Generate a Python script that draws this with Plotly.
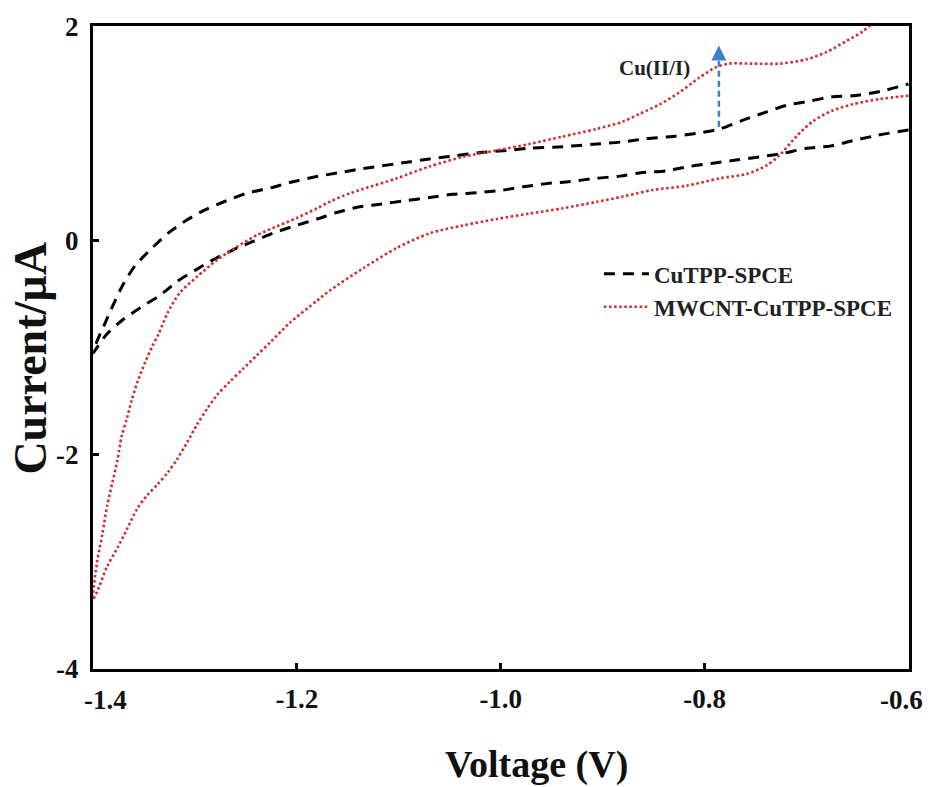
import plotly.graph_objects as go

# ---- data (V, µA) ----
cutpp_up_v = [-1.400, -1.396, -1.389, -1.382, -1.371, -1.359, -1.342, -1.326, -1.308, -1.289, -1.269, -1.249, -1.226,
              -1.207, -1.184, -1.160, -1.135, -1.092, -1.070, -1.045, -1.020, -0.994, -0.972, -0.939, -0.906,
              -0.880, -0.857, -0.831, -0.808, -0.785, -0.763, -0.739, -0.720, -0.697, -0.675, -0.655, -0.628, -0.600]
cutpp_up_i = [-1.05, -0.94, -0.79, -0.64, -0.42, -0.24, -0.07, 0.07, 0.19, 0.29, 0.37, 0.44, 0.49,
              0.54, 0.59, 0.63, 0.67, 0.73, 0.76, 0.79, 0.82, 0.84, 0.86, 0.875, 0.90,
              0.92, 0.95, 0.97, 1.00, 1.04, 1.12, 1.20, 1.26, 1.30, 1.34, 1.35, 1.39, 1.46]
cutpp_lo_v = [-1.400, -1.387, -1.372, -1.354, -1.334, -1.317, -1.300, -1.282, -1.263, -1.243, -1.224, -1.204,
              -1.180, -1.161, -1.141, -1.117, -1.094, -1.070, -1.047, -1.023, -0.998, -0.978, -0.955, -0.932,
              -0.906, -0.883, -0.864, -0.837, -0.815, -0.792, -0.769, -0.746, -0.724, -0.700, -0.677, -0.655,
              -0.631, -0.600]
cutpp_lo_i = [-1.05, -0.88, -0.75, -0.63, -0.51, -0.38, -0.28, -0.18, -0.09, -0.01, 0.065, 0.13,
              0.20, 0.26, 0.31, 0.34, 0.37, 0.40, 0.43, 0.445, 0.47, 0.50, 0.53, 0.55,
              0.58, 0.60, 0.63, 0.65, 0.69, 0.72, 0.75, 0.78, 0.81, 0.86, 0.88, 0.93,
              0.98, 1.03]

mw_up_v = [-1.400, -1.396, -1.391, -1.386, -1.381, -1.376, -1.372, -1.367, -1.362, -1.356, -1.349, -1.342,
           -1.336, -1.327, -1.315, -1.298, -1.278, -1.259, -1.239, -1.220, -1.200, -1.180, -1.168, -1.148,
           -1.135, -1.102, -1.070, -1.037, -1.004, -0.972, -0.939, -0.906, -0.880, -0.864, -0.844, -0.825,
           -0.805, -0.788, -0.776, -0.753, -0.726, -0.700, -0.680, -0.661, -0.645, -0.635, -0.620]
mw_up_i = [-3.35, -3.00, -2.75, -2.47, -2.26, -2.05, -1.83, -1.67, -1.49, -1.31, -1.14, -0.99,
           -0.88, -0.68, -0.49, -0.34, -0.18, -0.06, 0.05, 0.13, 0.21, 0.30, 0.36, 0.44,
           0.48, 0.58, 0.69, 0.78, 0.84, 0.90, 0.97, 1.04, 1.11, 1.18, 1.27, 1.38,
           1.52, 1.62, 1.65, 1.65, 1.65, 1.69, 1.76, 1.86, 1.95, 2.03, 2.15]
mw_lo_v = [-1.400, -1.396, -1.386, -1.376, -1.367, -1.357, -1.347, -1.337, -1.327, -1.318, -1.308, -1.298,
           -1.288, -1.278, -1.266, -1.253, -1.239, -1.226, -1.207, -1.180, -1.168, -1.135, -1.102, -1.070,
           -1.037, -1.004, -0.972, -0.939, -0.906, -0.880, -0.851, -0.818, -0.785, -0.759, -0.739, -0.726,
           -0.710, -0.694, -0.675, -0.655, -0.628, -0.600]
mw_lo_i = [-3.35, -3.28, -3.04, -2.87, -2.70, -2.51, -2.38, -2.28, -2.17, -2.05, -1.89, -1.72,
           -1.57, -1.44, -1.32, -1.20, -1.07, -0.95, -0.77, -0.56, -0.47, -0.26, -0.07, 0.065,
           0.14, 0.20, 0.25, 0.30, 0.36, 0.41, 0.47, 0.51, 0.58, 0.62, 0.70, 0.80,
           0.97, 1.11, 1.21, 1.27, 1.32, 1.35]

series_names = ["CuTPP-SPCE", "MWCNT-CuTPP-SPCE"]
x_ticks = [-1.4, -1.2, -1.0, -0.8, -0.6]
x_ticktext = ["-1.4", "-1.2", "-1.0", "-0.8", "-0.6"]
y_ticks = [-4, -2, 0, 2]
y_ticktext = ["-4", "-2", "0", "2"]
peak_label = "Cu(II/I)"
arrow_v = -0.786
arrow_i = [1.06, 1.82]

FONT = "Liberation Serif"
TICKFONT = dict(family=FONT, size=27, color="#111", weight="bold")

fig = go.Figure()
fig.add_trace(go.Scatter(
    x=cutpp_lo_v[::-1] + cutpp_up_v[1:], y=cutpp_lo_i[::-1] + cutpp_up_i[1:],
    mode="lines", name=series_names[0],
    line=dict(color="black", width=3, dash="11px,8px", shape="spline", smoothing=0.8)))
fig.add_trace(go.Scatter(
    x=mw_lo_v[::-1] + mw_up_v[1:], y=mw_lo_i[::-1] + mw_up_i[1:],
    mode="lines", name=series_names[1],
    line=dict(color="#d42a2a", width=2.6, dash="2.5px,2.6px", shape="spline", smoothing=0.8)))

# dashed arrow
fig.add_shape(type="line", x0=arrow_v, x1=arrow_v, y0=arrow_i[0], y1=arrow_i[1] - 0.12,
              xref="x", yref="y", line=dict(color="#3f7fcc", width=2.5, dash="6px,4px"))
fig.add_annotation(x=arrow_v, y=arrow_i[1], ax=arrow_v, ay=arrow_i[1] - 0.14,
                   xref="x", yref="y", axref="x", ayref="y", text="", showarrow=True,
                   arrowhead=2, arrowsize=1.2, arrowwidth=2.5, arrowcolor="#3f7fcc")
fig.add_annotation(x=-0.849, y=1.61, xref="x", yref="y", text=peak_label, showarrow=False,
                   font=dict(family=FONT, size=21, color="#222", weight="bold"))

# end tick labels (drawn as annotations so the edge labels are not dropped)
for val, txt, shift in [(x_ticks[0], x_ticktext[0], 12), (x_ticks[-1], x_ticktext[-1], -7)]:
    fig.add_annotation(x=val, y=0, xref="x", yref="paper", yanchor="top", yshift=-14,
                       xshift=shift, text=txt, showarrow=False, font=TICKFONT)
inner_text = [""] + x_ticktext[1:-1] + [""]

# axis titles as annotations (positioned like the reference)
fig.add_annotation(x=0.544, y=-0.148, xref="paper", yref="paper", text="Voltage (V)",
                   showarrow=False, xanchor="center", yanchor="middle",
                   font=dict(family=FONT, size=38, color="#111", weight="bold"))
fig.add_annotation(x=-0.077, y=0.483, xref="paper", yref="paper", text="Current/µA",
                   showarrow=False, xanchor="center", yanchor="middle", textangle=-90,
                   font=dict(family=FONT, size=46, color="#111", weight="bold"))

axis_common = dict(showline=True, linecolor="black", linewidth=3, mirror=True,
                   ticks="inside", ticklen=6, tickwidth=3, tickcolor="black",
                   showgrid=False, zeroline=False, tickfont=TICKFONT)

fig.update_xaxes(range=[-1.4, -0.5995], tickvals=x_ticks, ticktext=inner_text,
                 ticklabelstandoff=4, **axis_common)
fig.update_yaxes(range=[-4, 2.001], tickvals=y_ticks, ticktext=y_ticktext,
                 ticklabelstandoff=6, **axis_common)

fig.update_layout(
    width=928, height=787,
    margin=dict(l=93, r=19, t=21, b=118),
    plot_bgcolor="white", paper_bgcolor="white",
    showlegend=True,
    legend=dict(x=0.62, y=0.648, xanchor="left", yanchor="top",
                bgcolor="rgba(0,0,0,0)", font=dict(family=FONT, size=23, color="#222", weight="bold"),
                itemwidth=45, tracegroupgap=4),
)

fig.write_html("out.html")
